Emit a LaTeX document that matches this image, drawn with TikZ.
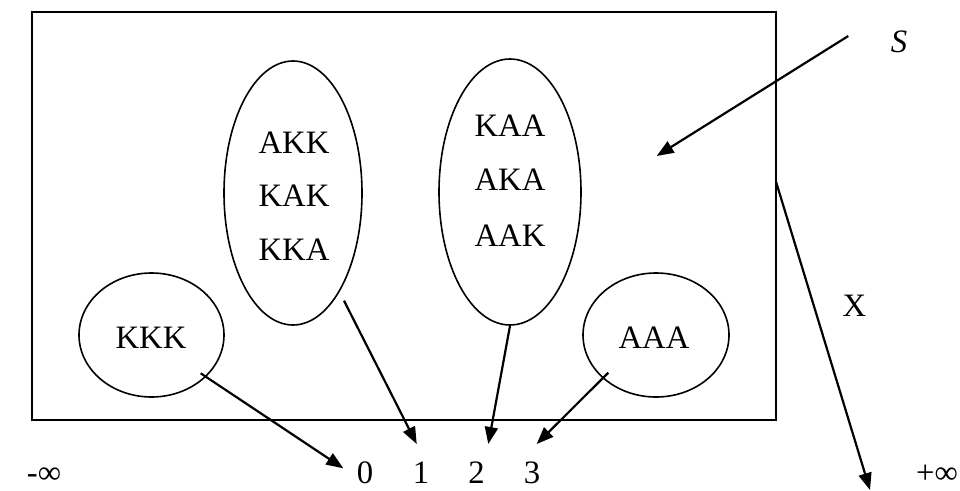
\documentclass[tikz,border=0pt]{standalone}
\usepackage{fontspec}
\setmainfont{Liberation Serif}
\usetikzlibrary{arrows.meta,shapes.geometric}
\begin{document}
\begin{tikzpicture}[x=1pt,y=-1pt,
  txt/.style={anchor=base,inner sep=0pt,font=\fontsize{32.7}{36}\selectfont},
  oval/.style={ellipse,draw,line width=1.6pt,inner sep=0pt},
  arr/.style={line width=2.2pt,-{Triangle[length=17pt,width=13pt]}}]
\useasboundingbox (0,0) rectangle (960,490);
\node[draw,line width=1.8pt,minimum width=744pt,minimum height=408pt,inner sep=0pt] (box) at (404,216) {};
% ellipses
\node[oval,minimum width=145pt,minimum height=124pt] (e1) at (151.5,335) {};
\node[oval,minimum width=138pt,minimum height=264pt] (e2) at (293,193) {};
\node[oval,minimum width=142pt,minimum height=266pt] (e3) at (510,192) {};
\node[oval,minimum width=146pt,minimum height=124pt] (e4) at (656,335) {};
% texts
\node[txt] (t1) at (151,348.3) {KKK};
\node[txt] (t2a) at (294,153.3) {AKK};
\node[txt] (t2b) at (294,206.7) {KAK};
\node[txt] (t2c) at (294,260) {KKA};
\node[txt] (t3a) at (510,136) {KAA};
\node[txt] (t3b) at (510,190.7) {AKA};
\node[txt] (t3c) at (510,246.7) {AAK};
\node[txt] (t4) at (654,348) {AAA};
\node[txt] (n0) at (365,483.3) {0};
\node[txt] (n1) at (421,483.3) {1};
\node[txt] (n2) at (476.5,483.3) {2};
\node[txt] (n3) at (532,483.3) {3};
\node[txt] (minf) at (44,483.3) {-∞};
\node[txt] (pinf) at (937,483.3) {+∞};
\node[txt] (S) at (899,52.7) {\itshape S};
\node[txt] (X) at (854.5,316) {X};
% connector ends
\coordinate (a0s) at (200.7,373.3);
\coordinate (a0e) at (343.3,468.3);
\coordinate (a1s) at (344,300.7);
\coordinate (a1e) at (416.7,444);
\coordinate (a2e) at (488.3,444);
\coordinate (a3s) at (608.3,372.7);
\coordinate (a3e) at (536.7,444);
\coordinate (ss) at (848.3,36);
\coordinate (se) at (656.7,156);
\coordinate (xs) at (776,181.7);
\coordinate (xe) at (870,490);
\draw[arr] (a0s) -- (a0e);
\draw[arr] (a1s) -- (a1e);
\draw[arr] (e3.south) -- (a2e);
\draw[arr] (a3s) -- (a3e);
\draw[arr] (ss) -- (se);
\draw[arr] (xs) -- (xe);
\end{tikzpicture}
\end{document}
